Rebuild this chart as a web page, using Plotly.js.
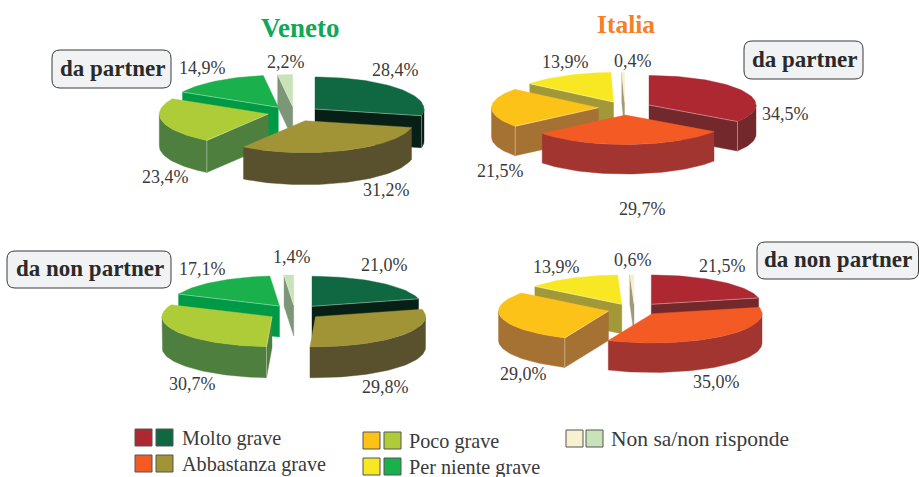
<!DOCTYPE html>
<html><head><meta charset="utf-8">
<script src="https://cdn.plot.ly/plotly-3.0.1.min.js"></script>
<style>html,body{margin:0;padding:0;background:#fff}#c{width:919px;height:477px}</style>
</head><body><div id="c"></div>
<script>
// ---------- data ----------
const categories = ["Molto grave","Abbastanza grave","Poco grave","Per niente grave","Non sa/non risponde"];
const venetoPartner    = [28.4,31.2,23.4,14.9,2.2];
const venetoNonPartner = [21.0,29.8,30.7,17.1,1.4];
const italiaPartner    = [34.5,29.7,21.5,13.9,0.4];
const italiaNonPartner = [21.5,35.0,29.0,13.9,0.6];
const groupLabels = ["da partner","da non partner"];
const titles = ["Veneto","Italia"];

// ---------- styles ----------
const venetoTop  = ["#0f6841","#a09437","#adcc37","#1ab14c","#c8e3b7"];
const venetoSide = ["#071f15","#59502d","#4f7f3f","#009a47","#7d9677"];
const italiaTop  = ["#ad2830","#f35a24","#fcc218","#f7e823","#f8f1cf"];
const italiaSide = ["#73282b","#a23530","#a67234","#a29837","#a09a76"];

// ---------- pie geometry (px), apex of each exploded slice ----------
const pies = [
 {v:venetoPartner, top:venetoTop, side:venetoSide, rx:109, ry:32, d:32,
  apex:[[315,109],[305,120.7],[268.3,114],[278.3,107.3],[292.7,106.5]],
  lab:[[395,70],[386,190],[165,177],[202,68],[286,62]]},
 {v:italiaPartner, top:italiaTop, side:italiaSide, rx:107, ry:29.5, d:29.5,
  apex:[[649,105],[625.5,115],[598.5,107.7],[613.5,102],[624.5,102]],
  lab:[[785,114],[642,209],[500,171],[565,62],[633,61]]},
 {v:venetoNonPartner, top:venetoTop, side:venetoSide, rx:110, ry:30, d:31,
  apex:[[312,306.3],[315.5,316.7],[272,316.7],[279.5,306],[293.7,305]],
  lab:[[384,265],[385,387],[192,384],[202,269],[292,257]]},
 {v:italiaNonPartner, top:italiaTop, side:italiaSide, rx:110, ry:29.3, d:29.5,
  apex:[[651.3,304.3],[652,313.7],[608.5,311],[621.8,304.3],[634,304]],
  lab:[[722,266],[716,382],[523,374],[556,267],[633,260]]}
];

const traces = [], annotations = [], shapes = [];
const rad = a => a*Math.PI/180;
const seam = "rgba(255,255,255,0.45)";
function poly(xs, ys, color){
  traces.push({type:"scatter",mode:"lines",x:xs.concat(xs[0]),y:ys.concat(ys[0]),fill:"toself",
    fillcolor:color,line:{color:color,width:0.4},hoverinfo:"skip",showlegend:false});
}
function seamLine(xs, ys){
  traces.push({type:"scatter",mode:"lines",x:xs,y:ys,line:{color:seam,width:0.8},hoverinfo:"skip",showlegend:false});
}
function arc(p, s, e, dy){
  const xs=[], ys=[], n=Math.max(2,Math.ceil((e-s)/2));
  for(let i=0;i<=n;i++){const a=rad(s+(e-s)*i/n);
    xs.push(p.cx+p.rx*Math.sin(a)); ys.push(p.cy-p.ry*Math.cos(a)+dy);}
  return [xs,ys];
}
function radial(p, a, color){
  const x=p.cx+p.rx*Math.sin(rad(a)), y=p.cy-p.ry*Math.cos(rad(a));
  poly([p.cx,x,x,p.cx],[p.cy,y,y+p.d,p.cy+p.d],color);
  return [x,y];
}
pies.forEach(pie=>{
  const sum = pie.v.reduce((a,b)=>a+b,0);
  let acc = 0;
  const slices = pie.v.map((val,i)=>{const s=acc/sum*360; acc+=val; const e=acc/sum*360; return {i,s,e,mid:(s+e)/2};});
  slices.slice().sort((a,b)=>Math.cos(rad(b.mid))-Math.cos(rad(a.mid))).forEach(sl=>{
    const p={cx:pie.apex[sl.i][0],cy:pie.apex[sl.i][1],rx:pie.rx,ry:pie.ry,d:pie.d};
    const sc=pie.side[sl.i], tc=pie.top[sl.i];
    const seams=[];
    if(Math.sin(rad(sl.s))<-1e-6){ radial(p,sl.s,sc); seams.push(sl.s); }
    if(Math.sin(rad(sl.e))>1e-6){ radial(p,sl.e,sc); seams.push(sl.e); }
    const a0=Math.max(sl.s,90), a1=Math.min(sl.e,270);
    if(a1>a0){
      const [x1,y1]=arc(p,a0,a1,0), [x2,y2]=arc(p,a0,a1,p.d);
      poly(x1.concat(x2.reverse()),y1.concat(y2.reverse()),sc);
    }
    const [x,y]=arc(p,sl.s,sl.e,0);
    poly([p.cx].concat(x),[p.cy].concat(y),tc);
    seams.forEach(a=>{
      const ex=p.cx+p.rx*Math.sin(rad(a)), ey=p.cy-p.ry*Math.cos(rad(a));
      if(Math.cos(rad(a))<0 && (sl.e-sl.s)>3) seamLine([ex,ex],[ey,ey+p.d]);
      if((sl.e-sl.s)>3) seamLine([p.cx,ex],[p.cy,ey]);
    });
  });
  pie.v.forEach((val,i)=>annotations.push({x:pie.lab[i][0],y:pie.lab[i][1],xref:"x",yref:"y",
    text:val.toFixed(1).replace(".",",")+"%",showarrow:false,xanchor:"center",yanchor:"middle",
    font:{family:"Liberation Serif",size:18,color:"#3a3a3a"}}));
});

// titles
[[300.5,28,"#0fa85a",27],[626,24,"#f58025",25.5]].forEach((t,i)=>annotations.push({x:t[0],y:t[1],xref:"x",yref:"y",
  text:"<b>"+titles[i]+"</b>",showarrow:false,xanchor:"center",yanchor:"middle",
  font:{family:"Liberation Serif",size:t[3],color:t[2]}}));

// group label boxes
function roundRect(x0,y0,x1,y1,r){
  return `M${x0+r},${y0}L${x1-r},${y0}Q${x1},${y0} ${x1},${y0+r}L${x1},${y1-r}Q${x1},${y1} ${x1-r},${y1}L${x0+r},${y1}Q${x0},${y1} ${x0},${y1-r}L${x0},${y0+r}Q${x0},${y0} ${x0+r},${y0}Z`;
}
[[52,50,171,88,0],[744,41,863,79,0],[7,251,171,288,1],[757,242,918.5,279,1]].forEach(b=>{
  shapes.push({type:"path",xref:"x",yref:"y",path:roundRect(b[0],b[1],b[2],b[3],8),
    fillcolor:"#f1f2f4",line:{color:"#3a3a3a",width:1}});
  annotations.push({x:(b[0]+b[2])/2+0.5,y:(b[1]+b[3])/2-1,xref:"x",yref:"y",text:"<b>"+groupLabels[b[4]]+"</b>",
    showarrow:false,xanchor:"center",yanchor:"middle",font:{family:"Liberation Serif",size:23,color:"#2a2a2a"}});
});

// legend
const legendPos = [[135,156,429,181,20.2],[135,156,455,181,20.2],[363,384,432,408,20.2],[363,384,458,408,20.2],[566,586,430,610,21.5]];
categories.forEach((c,i)=>{
  const l=legendPos[i];
  [[l[0],italiaTop[i]],[l[1],venetoTop[i]]].forEach(s=>shapes.push({type:"rect",xref:"x",yref:"y",
    x0:s[0],x1:s[0]+17,y0:l[2],y1:l[2]+17,fillcolor:s[1],line:{color:"#555",width:1}}));
  annotations.push({x:l[3]-1,y:l[2]+9,xref:"x",yref:"y",text:c,showarrow:false,xanchor:"left",yanchor:"middle",
    font:{family:"Liberation Serif",size:l[4],color:"#3a3a3a"}});
});

Plotly.newPlot("c",traces,{
  width:919,height:477,margin:{l:0,r:0,t:0,b:0},paper_bgcolor:"#fff",plot_bgcolor:"#fff",showlegend:false,
  xaxis:{range:[0,919],visible:false,fixedrange:true},
  yaxis:{range:[477,0],visible:false,fixedrange:true},
  annotations,shapes,hovermode:false
},{displayModeBar:false,staticPlot:true});
</script></body></html>
